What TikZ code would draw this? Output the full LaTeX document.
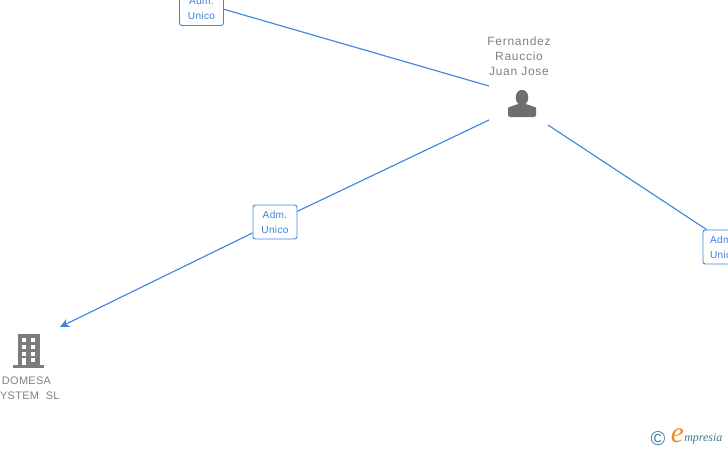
\documentclass[tikz,border=0pt]{standalone}
\usepackage{fontspec}
\setmainfont{Liberation Sans}
\newfontfamily\spacedfont[LetterSpace=6]{Liberation Sans}
\newfontfamily\rolefont[LetterSpace=3]{Liberation Sans}
\newfontfamily\logoe{Liberation Serif Italic}
\usetikzlibrary{arrows.meta}
\definecolor{linkblue}{HTML}{3D85E0}
\definecolor{labelblue}{HTML}{3F80D8}
\definecolor{icongray}{HTML}{6E6E6E}
\definecolor{firmgray}{HTML}{7C7C7C}
\definecolor{namegray}{HTML}{808080}
\definecolor{logoteal}{HTML}{3C7F99}
\definecolor{logoorange}{HTML}{F08A1D}
\tikzset{
  link/.style={draw=linkblue,line width=0.85pt},
  linkarrow/.style={link,-{Stealth[length=7pt,width=6.5pt]}},
  rolebox/.style={draw=linkblue,fill=white,rounded corners=1.8pt,line width=0.7pt,
    minimum width=33pt,minimum height=25.5pt,inner sep=0pt,text=labelblue,
    font=\rolefont\fontsize{7.6pt}{11.3pt}\selectfont,align=center},
  namelabel/.style={text=namegray,font=\spacedfont\fontsize{9pt}{11.3pt}\selectfont,align=center,inner sep=0pt},
  firmlabel/.style={text=namegray,font=\rolefont\fontsize{8.2pt}{11.3pt}\selectfont,align=center,inner sep=0pt},
}
\begin{document}
\begin{tikzpicture}[x=0.75pt,y=-0.75pt]
\useasboundingbox (0,0) rectangle (728,450);
\clip (0,0) rectangle (728,450);
% role boxes
\node[rolebox] (top) at (201.5,8.5) {Adm.\\Unico};
\node[rolebox] (mid) at (275,222) {Adm.\\Unico};
\node[rolebox,align=left,text width=33pt] (right) at (725,247) {\hspace*{5.3pt}Adm\\\hspace*{5.3pt}Unic};
% people and firm labels
\node[namelabel] (person) at (519,56) {Fernandez\\Rauccio\\Juan Jose};
\node[firmlabel] (firm) at (26.5,388) {DOMESA\\\hspace*{5pt}YSTEM~~SL};
% connector end points round the icons
\coordinate (pa) at (489,86);
\coordinate (pb) at (489,120);
\coordinate (pc) at (548,125);
\coordinate (fa) at (60,327);
% connectors
\draw[link] (pa) -- (top.-2);
\draw[link] (pb) -- (mid);
\draw[linkarrow] (mid) -- (fa);
\draw[link] (pc) -- ([xshift=3pt]right.north west);
% person icon
\fill[icongray] (522,97.5) ellipse (6.3 and 7.7);
\fill[icongray,rounded corners=1.5pt] (508,117) -- (508,110) .. controls (508,107) and (512,106.5) .. (517,104) -- (527,104) .. controls (532,106.5) and (536,107) .. (536,110) -- (536,117) -- cycle;
% building icon
\fill[firmgray] (18,334) rectangle (40,365);
\fill[firmgray] (13,365) rectangle (44,368);
\foreach \yy in {338,345,352}{
  \fill[white] (21.7,\yy) rectangle (26,\yy+4);
  \fill[white] (31,\yy) rectangle (35.3,\yy+4);
}
\fill[white] (21.7,358) rectangle (26,365);
\fill[white] (31,358) rectangle (35.3,362);
% logo
\node[inner sep=0pt,text=logoteal,font=\fontsize{15pt}{15pt}\selectfont] (copy) at (658,438.5) {©};
\node[inner sep=0pt,text=logoorange,font=\logoe\fontsize{22pt}{22pt}\selectfont] (loge) at (677.5,436) {e};
\node[inner sep=0pt,anchor=west,text=logoteal,font=\logoe\fontsize{9pt}{10pt}\selectfont] (logotext) at (684,438.5) {mpresia};
\end{tikzpicture}
\end{document}
